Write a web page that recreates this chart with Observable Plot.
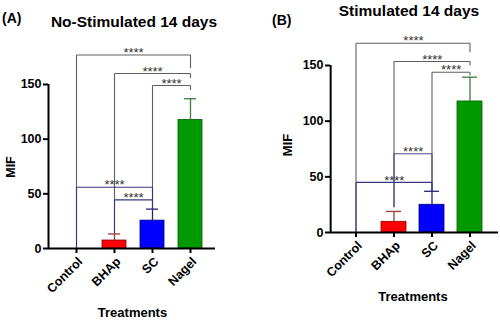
<!DOCTYPE html>
<html>
<head>
<meta charset="utf-8">
<script src="https://cdn.jsdelivr.net/npm/d3@7"></script>
<script src="https://cdn.jsdelivr.net/npm/@observablehq/plot@0.6"></script>
<style>
  html, body { margin: 0; padding: 0; background: #fff; }
  #wrap { position: relative; width: 500px; height: 322px; background: #fff; overflow: hidden; }
  #wrap > div { position: absolute; top: 0; }
  #panelA { left: 0; }
  #panelB { left: 250px; }
</style>
</head>
<body>
<div id="wrap">
  <div id="panelA"></div>
  <div id="panelB"></div>
</div>
<script>
// ---------- data ----------
const categories = ["Control", "BHAp", "SC", "Nagel"];
const yTicks = [0, 50, 100, 150];

// Panel A: No-Stimulated 14 days
const meanA = [0, 7.3, 25.5, 117.5];
const errA  = [0, 6.0, 10.5, 19.5];
// Panel B: Stimulated 14 days
const meanB = [0, 9.6, 24.9, 117.7];
const errB  = [0, 9.3, 12.1, 21.8];

const barFill   = ["#ffffff", "#ff0000", "#0000ff", "#009a00"];
const barStroke = ["#000000", "#8a0000", "#00006e", "#006000"];
const errColor  = ["#000000", "#a03a3a", "#26267a", "#3d7d3d"];

// significance brackets
const brFromA  = ["Control", "BHAp", "SC", "Control", "BHAp"];
const brToA    = ["Nagel", "Nagel", "Nagel", "SC", "SC"];
const brLevelA = [177, 160, 149, 56, 44.5];
const brLeftA  = [0, 13, 36, 0, 13];
const brRightA = [165, 156, 145, 36, 36];
const brLabelA = ["****", "****", "****", "****", "****"];
const brColorA = ["#5e5e5e", "#5e5e5e", "#5e5e5e", "#34397e", "#34397e"];

const brFromB  = ["Control", "BHAp", "SC", "BHAp", "Control"];
const brToB    = ["Nagel", "Nagel", "Nagel", "SC", "SC"];
const brLevelB = [170, 153.6, 144, 70.7, 45];
const brLeftB  = [0, 22.7, 37, 22.7, 0];
const brRightB = [162, 150, 141, 37, 37];
const brLabelB = ["****", "****", "****", "****", "****"];
const brColorB = ["#5e5e5e", "#5e5e5e", "#5e5e5e", "#4a4c86", "#34397e"];

// ---------- helpers ----------
function rows(mean, err) {
  return categories.map((c, i) => ({cat: c, mean: mean[i], top: mean[i] + err[i], err: err[i],
    fill: barFill[i], stroke: barStroke[i], ec: errColor[i]}));
}
function segments(from, to, level, left, right, color) {
  const s = [];
  from.forEach((f, i) => {
    s.push({x1: f, x2: to[i], y1: level[i], y2: level[i], c: color[i]});
    s.push({x1: f, x2: f, y1: level[i], y2: left[i], c: color[i]});
    s.push({x1: to[i], x2: to[i], y1: level[i], y2: right[i], c: color[i]});
  });
  return s;
}

const cfgA = {mean: meanA, err: errA, from: brFromA, to: brToA, level: brLevelA, left: brLeftA,
  right: brRightA, color: brColorA, label: brLabelA,
  ml: 48, mr: 35, mt: 29.3, mb: 74, range: [57, 209], pi: 0.368, po: 0.184, capInset: 6};
const cfgB = {mean: meanB, err: errB, from: brFromB, to: brToB, level: brLevelB, left: brLeftB,
  right: brRightB, color: brColorB, label: brLabelB,
  ml: 80, mr: 2, mt: 9.33, mb: 90, range: [86.2, 239.4], pi: 0.347, po: 0.1735, capInset: 5};

function build(cfg) {
  const d = rows(cfg.mean, cfg.err);
  const segs = segments(cfg.from, cfg.to, cfg.level, cfg.left, cfg.right, cfg.color);
  const [r0, r1] = cfg.range;
  const n = categories.length;
  const step = (r1 - r0) / (n - cfg.pi + 2 * cfg.po);
  const ctrlCenter = r0 + cfg.po * step + step * (1 - cfg.pi) / 2;
  // one text mark per bracket, shifted to the midpoint between the two categories
  const starMarks = cfg.from.map((f, i) => {
    const gap = categories.indexOf(cfg.to[i]) - categories.indexOf(f);
    return Plot.text([{a: f, y: cfg.level[i], t: cfg.label[i]}], {
      x: "a", y: "y", text: "t", dx: gap * step / 2, dy: -2,
      fontSize: 13, fill: "#333", fontWeight: "normal"
    });
  });
  return Plot.plot({
    width: 250, height: 322,
    marginLeft: cfg.ml, marginRight: cfg.mr, marginTop: cfg.mt, marginBottom: cfg.mb,
    style: {fontFamily: "'Liberation Sans', Arial, sans-serif", fontWeight: "bold", fontSize: "12.5px",
            color: "#000", background: "transparent", overflow: "visible"},
    x: {domain: categories, range: cfg.range, paddingInner: cfg.pi, paddingOuter: cfg.po, align: 0.5},
    y: {domain: [0, 200]},
    marks: [
      Plot.link(segs, {x1: "x1", x2: "x2", y1: "y1", y2: "y2", stroke: (s) => s.c, strokeWidth: 1.1}),
      ...starMarks,
      Plot.barY(d.filter(r => r.mean > 0), {x: "cat", y: "mean", fill: (r) => r.fill, stroke: (r) => r.stroke, strokeWidth: 0.8}),
      Plot.ruleX(d.filter(r => r.err > 0), {x: "cat", y1: "mean", y2: "top", stroke: (r) => r.ec, strokeWidth: 1.3}),
      Plot.tickY(d.filter(r => r.err > 0), {x: "cat", y: "top", stroke: (r) => r.ec, strokeWidth: 1.3,
        insetLeft: cfg.capInset, insetRight: cfg.capInset}),
      Plot.ruleY([0], {stroke: "#000", strokeWidth: 2}),
      Plot.ruleX([categories[0]], {x: v => v, y1: 0, y2: 150, dx: cfg.ml - ctrlCenter, stroke: "#000", strokeWidth: 2}),
      Plot.axisY({ticks: yTicks, tickSize: 5, tickPadding: 2, strokeWidth: 2, label: null, fontSize: 12.5}),
      Plot.axisX({tickSize: 5, tickPadding: 2, tickRotate: -45, strokeWidth: 2, label: null, fontSize: 12.5})
    ]
  });
}

document.getElementById("panelA").appendChild(build(cfgA));
document.getElementById("panelB").appendChild(build(cfgB));

// ---------- titles and axis titles ----------
const ns = "http://www.w3.org/2000/svg";
const ov = document.createElementNS(ns, "svg");
ov.setAttribute("width", 500);
ov.setAttribute("height", 322);
ov.style.position = "absolute";
ov.style.left = "0px";
ov.style.top = "0px";
ov.style.fontFamily = "'Liberation Sans', Arial, sans-serif";
ov.style.fontWeight = "bold";
function txt(s, x, y, size, anchor, rot) {
  const t = document.createElementNS(ns, "text");
  t.textContent = s;
  t.setAttribute("x", x); t.setAttribute("y", y);
  t.setAttribute("font-size", size);
  t.setAttribute("text-anchor", anchor);
  if (rot) t.setAttribute("transform", `rotate(${rot},${x},${y})`);
  ov.appendChild(t);
}
txt("(A)", 2, 23, 14, "start");
txt("No-Stimulated 14 days", 134, 26.5, 15.5, "middle");
txt("(B)", 272, 25, 14, "start");
txt("Stimulated 14 days", 409, 16, 15.5, "middle");
txt("MIF", 15, 167, 12.5, "middle", -90);
txt("MIF", 292, 145, 13, "middle", -90);
txt("Treatments", 132.5, 317, 13, "middle");
txt("Treatments", 413, 301, 13, "middle");
document.getElementById("wrap").appendChild(ov);

// nudge rotated x tick labels (+4px right, +4px down) as in the original
document.querySelectorAll("#panelA svg g[aria-label='x-axis tick label'], #panelB svg g[aria-label='x-axis tick label']")
  .forEach(g => {
    const tr = g.getAttribute("transform") || "";
    g.setAttribute("transform", `translate(4,4) ${tr}`);
  });
</script>
</body>
</html>
